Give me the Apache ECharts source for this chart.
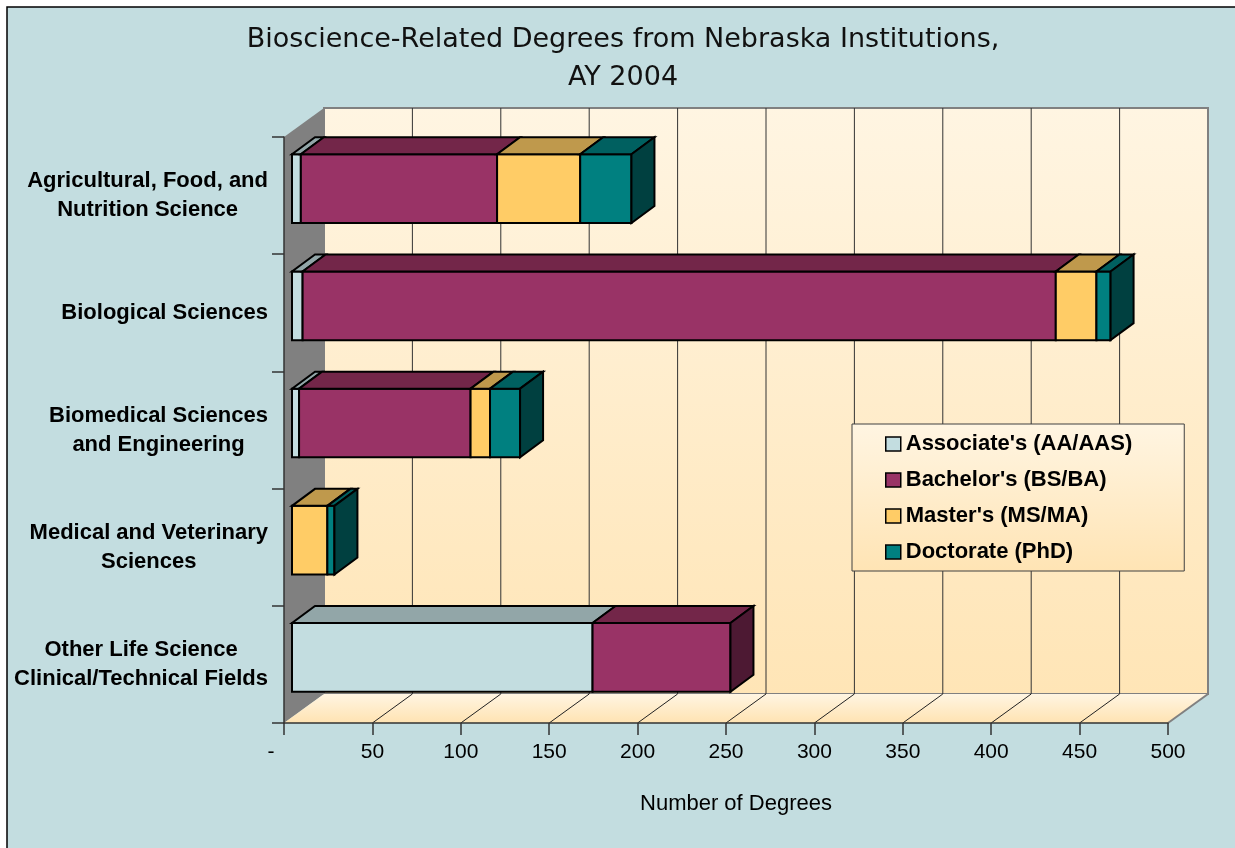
<!DOCTYPE html>
<html>
<head>
<meta charset="utf-8">
<title>Bioscience-Related Degrees from Nebraska Institutions</title>
<script src="https://cdn.jsdelivr.net/npm/echarts@6/dist/echarts.min.js"></script>
<style>
  html, body { margin: 0; padding: 0; background: #fff; }
  #main { width: 1235px; height: 848px; }
</style>
</head>
<body>
<div id="main"></div>
<script>
// data
var categories = [
  'Agricultural, Food, and\nNutrition Science',
  'Biological Sciences',
  'Biomedical Sciences\nand Engineering',
  'Medical and Veterinary\nSciences',
  'Other Life Science\nClinical/Technical Fields'
];
var seriesNames = ["Associate's (AA/AAS)", "Bachelor's (BS/BA)", "Master's (MS/MA)", "Doctorate (PhD)"];
var associate = [5, 6, 4, 0, 170];
var bachelor = [111, 426, 97, 0, 78];
var master = [47, 23, 11, 20, 0];
var doctorate = [29, 8, 17, 4, 0];
var xTicks = [0, 50, 100, 150, 200, 250, 300, 350, 400, 450, 500];

var values = [associate, bachelor, master, doctorate];
var fronts = ['#C3DDE0', '#993366', '#FFCC66', '#008080'];
var tops = ['#92A6A8', '#732649', '#BF994C', '#006060'];
var sides = ['#627072', '#4D1933', '#806633', '#004040'];

// 3d depth offsets (px)
var wallDx = 40, wallDy = -29;
var frontDx = 8, frontDy = -7;
var backDx = 31, backDy = -24;

var myChart = echarts.init(document.getElementById('main'));

// stacked segments [start, end, category, isLast]
function buildSegments(si) {
  var out = [];
  for (var c = 0; c < categories.length; c++) {
    var start = 0;
    for (var k = 0; k < si; k++) start += values[k][c];
    var v = values[si][c];
    var last = true;
    for (var k2 = si + 1; k2 < values.length; k2++) {
      if (values[k2][c] > 0) last = false;
    }
    out.push([start, start + v, c, last ? 1 : 0]);
  }
  return out;
}

function renderBox(si) {
  return function (params, api) {
    var s = api.value(0), e = api.value(1), c = api.value(2), last = api.value(3);
    if (e - s <= 0) return;
    var p0 = api.coord([s, c]);
    var p1 = api.coord([e, c]);
    var band = api.size([0, 1])[1];
    var h = band * 0.586;
    var T = p0[1] + frontDy - h / 2;
    var B = T + h;
    var x0 = p0[0] + frontDx, x1 = p1[0] + frontDx;
    var ddx = backDx - frontDx, ddy = backDy - frontDy;
    var stroke = { stroke: '#000', lineWidth: 2, lineJoin: 'miter' };
    var children = [
      {
        type: 'polygon', z2: si * 10 + 1,
        shape: { points: [[x0, B], [x0, T], [x1, T], [x1, B]] },
        style: Object.assign({ fill: fronts[si] }, stroke)
      },
      {
        type: 'polygon', z2: si * 10 + 2,
        shape: { points: [[x0, T], [x1, T], [x1 + ddx, T + ddy], [x0 + ddx, T + ddy]] },
        style: Object.assign({ fill: tops[si] }, stroke)
      }
    ];
    if (last) {
      children.push({
        type: 'polygon', z2: si * 10 + 3,
        shape: { points: [[x1, T], [x1 + ddx, T + ddy], [x1 + ddx, B + ddy], [x1, B]] },
        style: Object.assign({ fill: sides[si] }, stroke)
      });
    }
    return { type: 'group', children: children };
  };
}

function renderWalls(params, api) {
  var cs = params.coordSys;
  var x = cs.x, y = cs.y, w = cs.width, h = cs.height;
  var dx = wallDx, dy = wallDy;
  var warm = new echarts.graphic.LinearGradient(0, 0, 0, 1, [
    { offset: 0, color: '#FFF5E2' },
    { offset: 1, color: '#FFE5B6' }
  ]);
  var floorFill = new echarts.graphic.LinearGradient(0, 0, 0, 1, [
    { offset: 0, color: '#FFF5E2' },
    { offset: 1, color: '#FFE3B2' }
  ]);
  var children = [
    {
      type: 'polygon',
      shape: { points: [[x + dx, y + dy], [x + w + dx, y + dy], [x + w + dx, y + h + dy], [x + dx, y + h + dy]] },
      style: { fill: warm, stroke: '#808080', lineWidth: 2 }
    },
    {
      type: 'polygon',
      shape: { points: [[x, y], [x + dx, y + dy], [x + dx, y + h + dy], [x, y + h]] },
      style: { fill: '#808080' }
    },
    {
      type: 'polygon',
      shape: { points: [[x, y + h], [x + w, y + h], [x + w + dx, y + h + dy], [x + dx, y + h + dy]] },
      style: { fill: floorFill }
    },
    {
      type: 'line',
      shape: { x1: x + w, y1: y + h, x2: x + w + dx, y2: y + h + dy },
      style: { stroke: '#808080', lineWidth: 2 }
    }
  ];
  for (var i = 1; i < xTicks.length - 1; i++) {
    var tx = api.coord([xTicks[i], 0])[0];
    children.push({
      type: 'line',
      shape: { x1: tx + dx, y1: y + dy, x2: tx + dx, y2: y + h + dy },
      style: { stroke: '#333', lineWidth: 1 }
    });
    children.push({
      type: 'line',
      shape: { x1: tx, y1: y + h, x2: tx + dx, y2: y + h + dy },
      style: { stroke: '#222', lineWidth: 1 }
    });
  }
  return { type: 'group', children: children };
}

var series = [{
  type: 'custom',
  name: 'walls',
  silent: true,
  z: 1,
  renderItem: renderWalls,
  encode: { x: 0, y: 1 },
  data: [[0, 0]]
}];
for (var i = 0; i < seriesNames.length; i++) {
  series.push({
    type: 'custom',
    name: seriesNames[i],
    z: 3,
    renderItem: renderBox(i),
    encode: { x: [0, 1], y: 2 },
    itemStyle: { color: fronts[i], borderColor: '#000', borderWidth: 1 },
    data: buildSegments(i)
  });
}

var option = {
  animation: false,
  backgroundColor: '#fff',
  graphic: [{
    type: 'rect',
    z: -10,
    silent: true,
    shape: { x: 7, y: 7, width: 1240, height: 860 },
    style: { fill: '#C3DDE0', stroke: '#000', lineWidth: 1.5 }
  }],
  title: {
    text: 'Bioscience-Related Degrees from Nebraska Institutions,\nAY 2004',
    left: 618,
    top: 16,
    textAlign: 'center',
    textStyle: {
      fontFamily: 'DejaVu Sans',
      fontSize: 27,
      fontWeight: 'normal',
      color: '#111',
      lineHeight: 38
    }
  },
  legend: {
    orient: 'vertical',
    left: 852,
    top: 424,
    padding: [9, 52, 8, 33],
    itemGap: 14,
    itemWidth: 15,
    itemHeight: 14,
    icon: 'rect',
    data: seriesNames,
    backgroundColor: new echarts.graphic.LinearGradient(0, 0, 0, 1, [
      { offset: 0, color: '#FFF5E2' },
      { offset: 1, color: '#FFE4B4' }
    ]),
    borderColor: '#404040',
    borderWidth: 1,
    itemStyle: { borderColor: '#000', borderWidth: 1.5 },
    textStyle: {
      fontFamily: 'Liberation Sans',
      fontSize: 22,
      fontWeight: 'bold',
      color: '#000',
      lineHeight: 22
    }
  },
  grid: { left: 284, right: 67, top: 137, bottom: 125 },
  xAxis: {
    type: 'value',
    min: 0,
    max: 500,
    interval: 50,
    z: 2,
    name: 'Number of Degrees',
    nameLocation: 'middle',
    nameGap: 70,
    nameTextStyle: {
      fontFamily: 'Liberation Sans',
      fontSize: 22,
      color: '#000',
      padding: [0, 0, 0, 20]
    },
    axisLine: { show: true, lineStyle: { color: '#333', width: 1.5 } },
    axisTick: { show: true, length: 12, lineStyle: { color: '#333', width: 1.5 } },
    splitLine: { show: false },
    axisLabel: {
      margin: 19,
      fontFamily: 'Liberation Sans',
      fontSize: 21,
      color: '#000',
      formatter: function (v) { return v === 0 ? '{d|-}' : String(v); },
      rich: { d: { fontFamily: 'Liberation Sans', fontSize: 21, color: '#000', padding: [0, 26, 0, 0] } }
    }
  },
  yAxis: {
    type: 'category',
    inverse: true,
    data: categories,
    z: 2,
    axisLine: { show: true, lineStyle: { color: '#333', width: 1.5 } },
    axisTick: { show: true, length: 12, lineStyle: { color: '#333', width: 1.5 } },
    axisLabel: {
      margin: 16,
      align: 'right',
      formatter: function (v) {
        return v.split('\n').map(function (l) { return '{c|' + l + '}'; }).join('\n');
      },
      rich: {
        c: {
          align: 'center',
          fontFamily: 'Liberation Sans',
          fontSize: 22,
          fontWeight: 'bold',
          color: '#000',
          lineHeight: 29
        }
      }
    }
  },
  series: series
};

myChart.setOption(option);
</script>
</body>
</html>
